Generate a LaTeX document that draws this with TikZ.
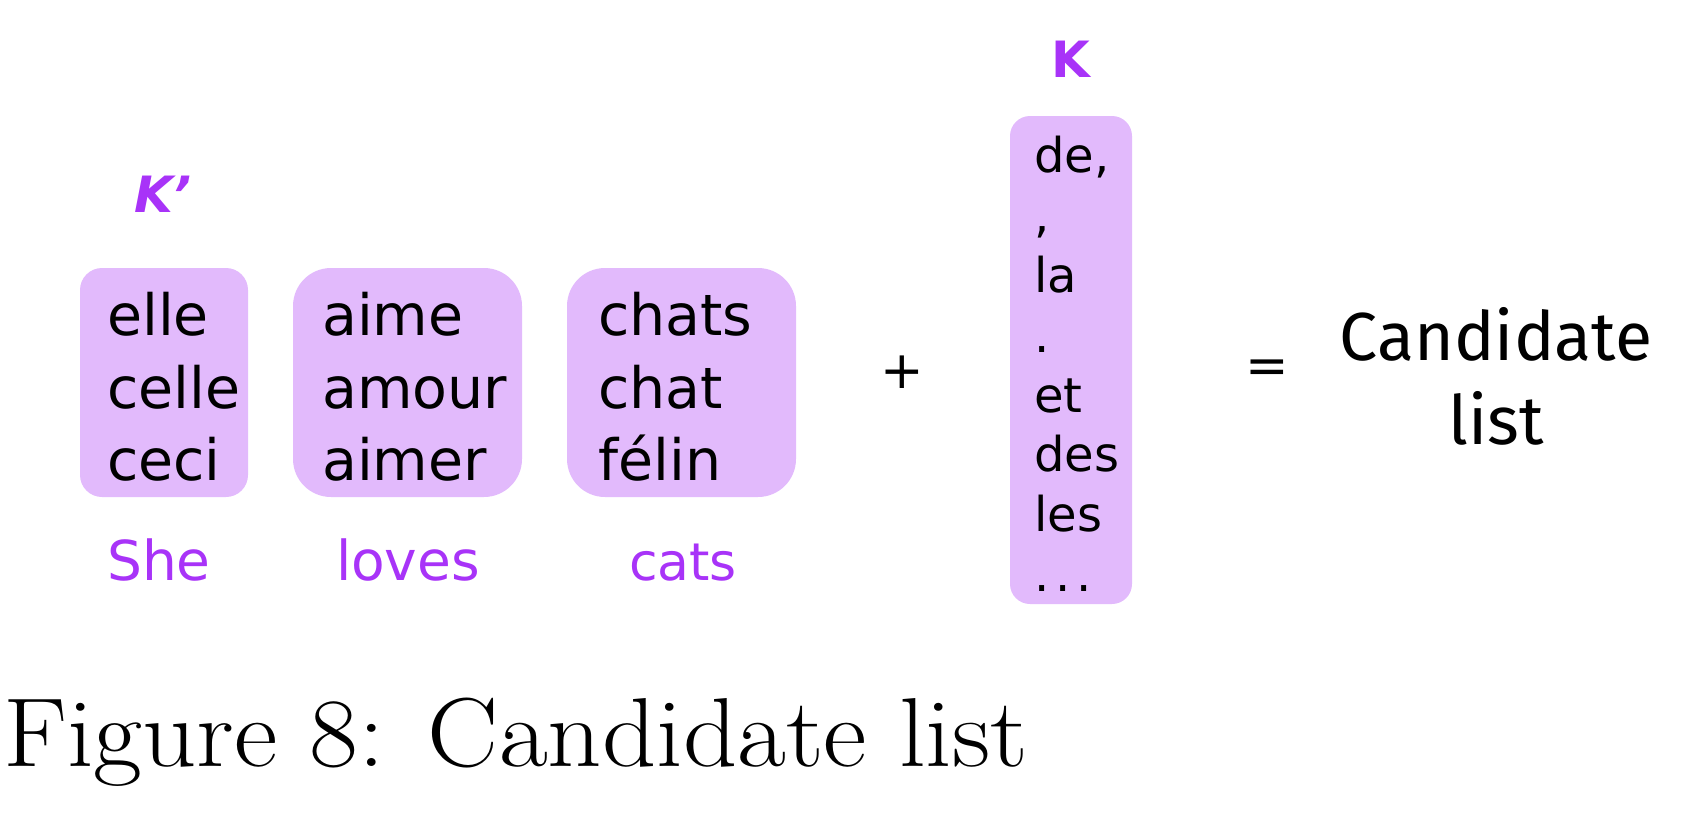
\documentclass[tikz,border=0pt]{standalone}
\usepackage{graphicx}
\usepackage{fontspec}
\newfontfamily\boxfont{DejaVu Sans}
\newfontfamily\boldfont{DejaVu Sans}
\newfontfamily\candfont{Fira Sans}
\definecolor{boxfill}{HTML}{E2BAFC}
\definecolor{lab}{HTML}{A833F8}
\begin{document}
\begin{tikzpicture}[x=1pt,y=-1pt,
  word/.style={anchor=base west,inner sep=0,font=\boxfont\fontsize{57}{60}\selectfont},
  kword/.style={anchor=base west,inner sep=0,font=\boxfont\fontsize{48}{50}\selectfont},
  lab/.style={anchor=base,inner sep=0,text=lab,font=\boxfont\fontsize{55}{60}\selectfont},
  klab/.style={anchor=base,inner sep=0,text=lab,font=\boldfont\bfseries\fontsize{50}{52}\selectfont},
  op/.style={anchor=base,inner sep=0,font=\boxfont\fontsize{52}{56}\selectfont}]
\useasboundingbox (0,0) rectangle (1684,814);
% boxes
\path[fill=boxfill,rounded corners=22pt] (80,268) rectangle (248,497) node[midway] (b1) {};
\path[fill=boxfill,rounded corners=38pt] (293,268) rectangle (522,497) node[midway] (b2) {};
\path[fill=boxfill,rounded corners=38pt] (567,268) rectangle (796,497) node[midway] (b3) {};
\path[fill=boxfill,rounded corners=20pt] (1010,116) rectangle (1132,604) node[midway] (bk) {};
% box 1
\node[word] (w11) at (107,335) {elle};
\node[word] (w12) at (107,408) {celle};
\node[word] (w13) at (107,480) {ceci};
% box 2
\node[word] (w21) at (322,335) {aime};
\node[word] (w22) at (322,408) {amour};
\node[word] (w23) at (322,480) {aimer};
% box 3
\node[word] (w31) at (598,335) {chats};
\node[word] (w32) at (598,408) {chat};
\node[word] (w33) at (598,480) {félin};
% K box
\node[kword] (k1) at (1034,172) {de,};
\node[kword] (k2) at (1034,232) {,};
\node[kword] (k3) at (1034,292) {la};
\node[kword] (k4) at (1034,352) {.};
\node[kword] (k5) at (1034,412) {et};
\node[kword] (k6) at (1034,471) {des};
\node[kword] (k7) at (1034,531) {les};
\node[kword] (k8) at (1034,591) {.\hspace{0.12em}.\hspace{0.12em}.};
% labels
\node[klab,font=\boldfont\bfseries\itshape\fontsize{50}{52}\selectfont] (kp) at (163,212) {K’};
\node[klab] (kk) at (1071,77) {K};
\node[lab] (l1) at (159,580) {She};
\node[lab] (l2) at (408,580) {loves};
\node[lab,font=\boxfont\fontsize{52}{60}\selectfont] (l3) at (683,580) {cats};
% operators
\node[op] (plus) at (902,388) {+};
\node[op] (eq) at (1267,383) {=};
\node[anchor=base,inner sep=0,font=\candfont\fontsize{68}{84}\selectfont] (c1) at (1496,360) {Candidate};
\node[anchor=base,inner sep=0,font=\candfont\fontsize{68}{84}\selectfont] (c2) at (1496,444) {list};
% caption
\node[anchor=base west,inner sep=0,font=\fontsize{98}{110}\selectfont] (cap) at (3,766) {\scalebox{1.085}[1]{Figure 8: Candidate list}};
\end{tikzpicture}
\end{document}
